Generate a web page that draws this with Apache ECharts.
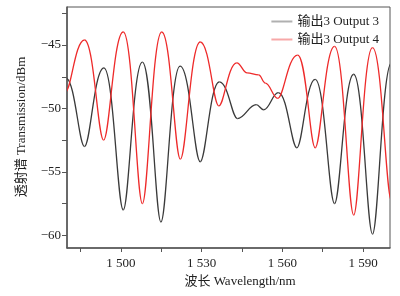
<!DOCTYPE html>
<html><head><meta charset="utf-8">
<script src="https://cdn.jsdelivr.net/npm/echarts@6/dist/echarts.min.js"></script>
<style>html,body{margin:0;padding:0;background:#fff}#c{width:400px;height:296px}</style>
</head><body><div id="c"></div>
<script>
// Output 3 (black) : [wavelength nm, dBm] read at extrema
const out3 = [
  [1479.5, -47.6], [1486.5, -53.0], [1493.7, -46.8], [1500.9, -58.0], [1508.0, -46.35],
  [1514.9, -58.95], [1522.0, -46.66], [1529.5, -54.2], [1536.6, -47.9], [1543.3, -50.8],
  [1550.3, -49.7], [1553.1, -50.1], [1558.5, -48.75], [1565.4, -53.1], [1572.2, -47.7],
  [1579.4, -57.5], [1586.5, -47.3], [1593.5, -59.9], [1600.6, -46.4]
];
// Output 4 (red)
const out4 = [
  [1479.4, -48.7], [1486.5, -44.6], [1493.6, -52.5], [1500.9, -43.97], [1508.0, -57.5],
  [1515.2, -43.97], [1522.1, -54.0], [1529.5, -44.76], [1536.4, -49.8], [1543.1, -46.4],
  [1546.9, -47.2], [1551.2, -47.35], [1553.7, -48.0], [1558.3, -49.2], [1565.7, -45.8],
  [1572.2, -53.1], [1579.4, -45.1], [1586.5, -58.4], [1593.5, -45.2], [1600.6, -57.3]
];
const seriesNames = ['输出3 Output 3', '输出3 Output 4'];
const xTicks = [1485, 1500, 1515, 1530, 1545, 1560, 1575, 1590];
const xLabels = [1500, 1530, 1560, 1590];
const yTicks = [-60, -57.5, -55, -52.5, -50, -47.5, -45, -42.5];
const yLabels = [-60, -55, -50, -45];

const serif = '"Liberation Serif","Noto Sans CJK SC",serif';
// segments between consecutive read extrema
const toSegments = pts => pts.slice(0, -1).map((p, i) => [p[0], p[1], pts[i + 1][0], pts[i + 1][1]]);

function curveSeries(name, pts, color) {
  return {
    name, type: 'custom', clip: true, data: toSegments(pts),
    encode: {x: [0, 2], y: [1, 3]},
    itemStyle: {color},
    renderItem: (params, api) => {
      const v0 = [api.value(0), api.value(1)], v1 = [api.value(2), api.value(3)];
      const a = api.coord(v0), b = api.coord(v1);
      const dx = b[0] - a[0];
      let high = 0.5, low = 0.3;
      if (Math.abs(v0[1] - v1[1]) < 2) { high = 0.4; low = 0.4; }
      const k0 = v0[1] > v1[1] ? high : low;
      const k1 = v1[1] > v0[1] ? high : low;
      return {
        type: 'bezierCurve',
        shape: {x1: a[0], y1: a[1], x2: b[0], y2: b[1],
          cpx1: a[0] + dx * k0, cpy1: a[1], cpx2: b[0] - dx * k1, cpy2: b[1]},
        style: {stroke: color, lineWidth: 1.3, fill: null}
      };
    }
  };
}

const chart = echarts.init(document.getElementById('c'), null, {renderer: 'canvas'});
chart.setOption({
  animation: false,
  backgroundColor: '#fff',
  grid: {left: 67, top: 7, right: 10, bottom: 48, show: true, borderColor: '#555', borderWidth: 1},
  legend: {
    right: 16, top: 10, orient: 'vertical', itemGap: 5, itemWidth: 21, itemHeight: 2,
    icon: 'rect',
    textStyle: {fontFamily: serif, fontSize: 13, color: '#222'},
    data: [
      {name: seriesNames[0], itemStyle: {color: '#b0b0b0'}},
      {name: seriesNames[1], itemStyle: {color: '#f7a8a8'}}
    ]
  },
  xAxis: {
    type: 'value', min: 1480, max: 1600,
    axisLine: {lineStyle: {color: '#555', width: 1.5}},
    axisTick: {show: true, length: 4, customValues: xTicks, lineStyle: {color: '#555'}},
    axisLabel: {customValues: xLabels, fontFamily: serif, fontSize: 13, color: '#222', margin: 9,
      formatter: v => String(v).replace(/(\d)(\d{3})$/, '$1 $2')},
    splitLine: {show: false}
  },
  yAxis: {
    type: 'value', min: -61, max: -42,
    axisLine: {show: true, lineStyle: {color: '#555', width: 1.5}},
    axisTick: {show: true, length: 5, customValues: yTicks, lineStyle: {color: '#555'}},
    axisLabel: {customValues: yLabels, fontFamily: serif, fontSize: 13, color: '#222', margin: 6,
      formatter: v => '\u2212' + Math.abs(v)},
    splitLine: {show: false}
  },
  graphic: [
    {type: 'text', style: {text: '波长 Wavelength/nm', font: '13px ' + serif, fill: '#222', textAlign: 'center', textVerticalAlign: 'middle', x: 240, y: 282}},
    {type: 'text', rotation: Math.PI / 2, x: 22, y: 127, style: {text: '透射谱 Transmission/dBm', font: '13px ' + serif, fill: '#222', textAlign: 'center', textVerticalAlign: 'middle'}}
  ],
  series: [
    curveSeries(seriesNames[0], out3, '#3a3a3a'),
    curveSeries(seriesNames[1], out4, '#ee2a2a')
  ]
});
</script></body></html>
